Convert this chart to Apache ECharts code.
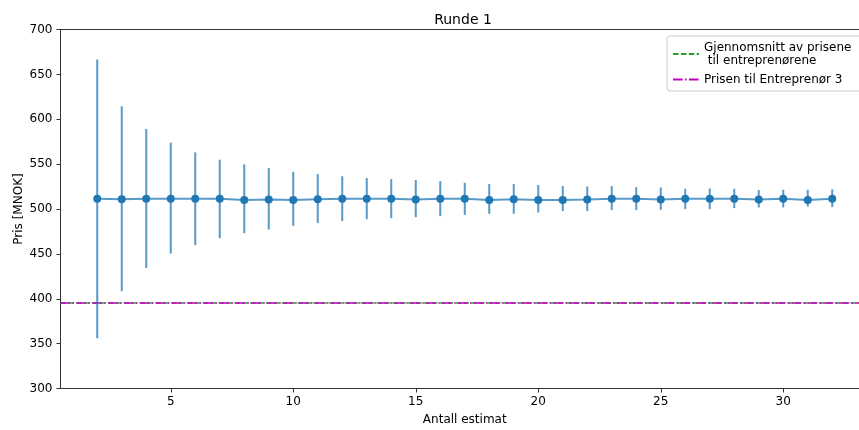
<!DOCTYPE html>
<html>
<head>
<meta charset="utf-8">
<script src="https://cdn.jsdelivr.net/npm/echarts@6/dist/echarts.min.js"></script>
<style>
html,body{margin:0;padding:0;background:#fff;}
#chart{width:859px;height:430px;}
</style>
</head>
<body>
<div id="chart"></div>
<script>
// ---- data ----
const antallEstimat = [2,3,4,5,6,7,8,9,10,11,12,13,14,15,16,17,18,19,20,21,22,23,24,25,26,27,28,29,30,31,32];
const meanPrice = [511.5,511,511.5,511.5,511.5,511.5,510,510.5,510,511,511.5,511.5,511.5,510.5,511.5,511.5,510,511,510,510,510.5,511.5,511.5,510.5,511.5,511.5,511.5,510.5,511.5,510,511.5];
const upperPrice = [666.5,614.4,589.2,573.9,563.1,554.9,549.7,545.6,541.5,538.9,536.5,534.5,533.4,532.3,531.1,529.2,527.8,527.8,526.7,525.6,525.1,525.5,524.4,524.0,522.5,522.9,522.5,521.1,521.4,521.4,521.8];
const lowerPrice = [355.9,408.4,434.4,450.3,459.7,467.5,473.1,477.1,481.3,484.3,486.5,488.7,489.8,490.9,492.1,493.5,494.6,494.6,496.1,497.7,497.7,498.8,498.8,499.1,499.9,499.9,501.0,501.7,501.7,502.8,502.1];
const averagePrice = 395;
const entreprenor3Price = 395;
const xTicks = [5,10,15,20,25,30];
const titleText = 'Runde 1';
const xName = 'Antall estimat';
const yName = 'Pris [MNOK]';
const avgName = 'Gjennomsnitt av prisene\n til entreprenørene';
const e3Name = 'Prisen til Entreprenør 3';

const FONT = 'DejaVu Sans';
const meanData = antallEstimat.map((x, i) => [x, meanPrice[i]]);
const errData = antallEstimat.map((x, i) => [x, lowerPrice[i], upperPrice[i]]);

const chart = echarts.init(document.getElementById('chart'), null, {renderer: 'canvas'});
chart.setOption({
  animation: false,
  backgroundColor: '#fff',
  title: {
    text: titleText,
    left: 458, top: 8, textAlign: 'center',
    textStyle: {fontFamily: FONT, fontSize: 14, fontWeight: 'normal', color: '#000'}
  },
  grid: {
    left: 60.5, top: 29.5, height: 359, width: 808.5,
    outerBoundsMode: 'none',
    containLabel: false,
    show: true, borderColor: '#333', borderWidth: 1, backgroundColor: 'transparent'
  },
  legend: {
    orient: 'vertical',
    left: 667, top: 36,
    data: [avgName, e3Name],
    backgroundColor: 'rgba(255,255,255,0.8)',
    borderColor: '#cccccc', borderWidth: 1, borderRadius: 3,
    padding: [5, 12, 5, 5],
    itemGap: 6,
    itemWidth: 26, itemHeight: 12,
    itemStyle: {opacity: 0},
    textStyle: {fontFamily: FONT, fontSize: 12, color: '#000', lineHeight: 13}
  },
  xAxis: {
    type: 'value', min: 0.5, max: 33.5,
    name: xName, nameLocation: 'middle', nameGap: 25, nameMoveOverlap: false,
    nameTextStyle: {fontFamily: FONT, fontSize: 12, color: '#000'},
    axisLine: {show: true, onZero: false, lineStyle: {color: '#333', width: 1}},
    axisTick: {show: true, length: 4, customValues: xTicks, lineStyle: {color: '#333'}},
    axisLabel: {customValues: xTicks, margin: 7, fontFamily: FONT, fontSize: 12, color: '#000'},
    splitLine: {show: false}
  },
  yAxis: {
    type: 'value', min: 300, max: 700, interval: 50,
    name: yName, nameLocation: 'middle', nameGap: 36, nameMoveOverlap: false,
    nameTextStyle: {fontFamily: FONT, fontSize: 12, color: '#000'},
    axisLine: {show: true, onZero: false, lineStyle: {color: '#333', width: 1}},
    axisTick: {show: true, length: 4, lineStyle: {color: '#333'}},
    axisLabel: {margin: 8, fontFamily: FONT, fontSize: 12, color: '#000'},
    splitLine: {show: false}
  },
  series: [
    {
      name: avgName,
      type: 'line',
      data: [],
      symbol: 'none',
      color: '#2ca02c',
      lineStyle: {color: '#2ca02c', width: 1.5, type: [5.5, 2.4]},
      markLine: {
        silent: true, symbol: 'none', animation: false,
        label: {show: false},
        lineStyle: {color: '#2ca02c', width: 1.5, type: [5.5, 2.4]},
        data: [{yAxis: averagePrice}]
      },
      z: 3
    },
    {
      name: e3Name,
      type: 'line',
      data: [],
      symbol: 'none',
      color: '#bf00bf',
      lineStyle: {color: '#bf00bf', width: 1.5, type: [9.6, 2.4, 1.5, 2.4]},
      markLine: {
        silent: true, symbol: 'none', animation: false,
        label: {show: false},
        lineStyle: {color: '#bf00bf', width: 1.5, type: [9.6, 2.4, 1.5, 2.4]},
        data: [{yAxis: entreprenor3Price}]
      },
      z: 4
    },
    {
      name: 'errorbars',
      type: 'custom',
      data: errData,
      encode: {x: 0, y: [1, 2]},
      renderItem: function (params, api) {
        const x = api.value(0);
        const p1 = api.coord([x, api.value(2)]);
        const p2 = api.coord([x, api.value(1)]);
        return {
          type: 'line',
          shape: {x1: p1[0], y1: p1[1], x2: p2[0], y2: p2[1]},
          style: {stroke: 'rgba(31,119,180,0.75)', lineWidth: 2}
        };
      },
      z: 5
    },
    {
      name: 'mean',
      type: 'line',
      data: meanData,
      symbol: 'circle', symbolSize: 8,
      itemStyle: {color: '#1f77b4'},
      lineStyle: {color: 'rgba(31,119,180,0.75)', width: 2},
      z: 6
    }
  ]
});
</script>
</body>
</html>
